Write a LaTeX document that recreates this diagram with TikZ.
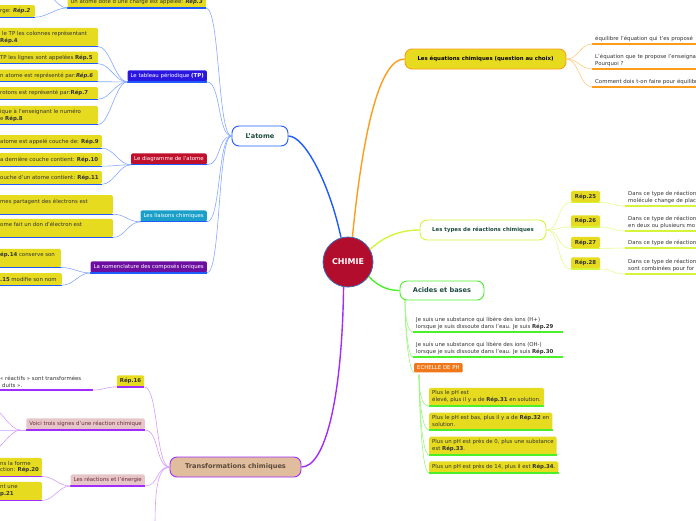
\documentclass[tikz,border=0pt]{standalone}
\usepackage{fontspec}
\setmainfont{DejaVu Sans}
\newcommand\fsm{\fontsize{5.4}{6.8}\selectfont}
\newcommand\fmid{\fontsize{5.4}{6.6}\selectfont\bfseries}
\newcommand\fbig{\fontsize{6.6}{8}\selectfont\bfseries}
\definecolor{ybox}{HTML}{E6DB1F}
\definecolor{txt}{HTML}{333333}
\definecolor{dgreen}{HTML}{1D4B3F}
\definecolor{blueA}{HTML}{1E5BFF}
\definecolor{blueL}{HTML}{86A8FF}
\definecolor{orA}{HTML}{FF9C1A}
\definecolor{orL}{HTML}{FFCB80}
\definecolor{ygA}{HTML}{D4F53A}
\definecolor{ygL}{HTML}{E6FA90}
\definecolor{grA}{HTML}{4CF02A}
\definecolor{grL}{HTML}{9CF57E}
\definecolor{puA}{HTML}{A22CFF}
\definecolor{puL}{HTML}{D49CFF}
\definecolor{chim}{HTML}{B30D2E}
\definecolor{chimB}{HTML}{3D6DB5}
\definecolor{tpc}{HTML}{2A16E0}
\definecolor{diagc}{HTML}{C0102C}
\definecolor{liac}{HTML}{1A9FC9}
\definecolor{nomc}{HTML}{6C0FA0}
\definecolor{echc}{HTML}{F0781A}
\definecolor{pinkc}{HTML}{E6C6C8}
\definecolor{pinkt}{HTML}{6B2A3A}
\definecolor{tanc}{HTML}{E0BD9C}
\definecolor{tant}{HTML}{5B4A3C}
% box cut by the left edge: name, right edge, centre y, height, text
\newcommand\cutleaf[5]{%
  \node[leafbg,anchor=east,minimum width=#2pt+6pt,minimum height=#4pt] (#1) at (#2,#3) {};
  \node[plain,anchor=west,inner xsep=0pt] (#1t) at (0,#3) {#5};}
\begin{document}
\begin{tikzpicture}[x=1pt,y=-1pt,font=\fsm,
  leaf/.style={fill=ybox,rounded corners=1.5pt,inner xsep=3pt,inner ysep=3pt,align=left,text=txt},
  leafbg/.style={fill=ybox,rounded corners=1.5pt,inner sep=0pt},
  plain/.style={inner xsep=3pt,inner ysep=2.6pt,align=left,text=txt},
  topic/.style={rounded corners=1.5pt,inner xsep=3pt,inner ysep=3pt,text=white},
  mainn/.style={rounded corners=7pt,line width=0.9pt,fill=white,font=\fbig,text=dgreen,minimum height=20pt},
  blu/.style={blueA,line width=1.3pt},
  bll/.style={blueL,line width=0.6pt},
  oru/.style={orA,line width=1.3pt},
  orl/.style={orL,line width=0.6pt},
  ygu/.style={ygA,line width=1.3pt},
  ygl/.style={ygL,line width=0.6pt},
  gru/.style={grA,line width=1.3pt},
  grl/.style={grL,line width=0.6pt},
  puu/.style={puA,line width=1.3pt},
  pul/.style={puL,line width=0.6pt}]
\useasboundingbox (0,0) rectangle (696,520);

% ---------- centre ----------
\node[circle,fill=chim,draw=chimB,line width=0.8pt,minimum size=50pt,inner sep=0pt,text=white,font=\fontsize{8}{9}\selectfont\bfseries] (chimie) at (348,262) {CHIMIE};

% ---------- L'atome ----------
\node[mainn,draw=blueA,minimum width=56pt] (atome) at (260,136) {L'atome};

\node[leaf,anchor=east] (r3) at (206,2) {Un atome doté d'une charge est appelée: \textbf{\textit{Rép.3}}};
\cutleaf{r2}{35}{11}{12}{rge: \textbf{\textit{Rép.2}}}
\coordinate (r1) at (40,-12);

\node[topic,fill=tpc,anchor=east] (tp) at (207,76) {Le tableau périodique \textbf{(TP)}};
\cutleaf{a4}{98}{37}{18.5}{\hspace*{2pt}le TP les colonnes représentant\\\textbf{Rép.4}}
\cutleaf{a5}{98}{57.5}{12}{TP les lignes sont appelées \textbf{Rép.5}}
\cutleaf{a6}{98}{75.5}{12}{n atome est représenté par:\textbf{\textit{Rép.6}}}
\cutleaf{a7}{98}{93}{12}{rotons est représenté par:\textbf{Rép.7}}
\cutleaf{a8}{98}{115}{18.5}{ique à l'enseignant le numéro\\e \textbf{Rép.8}}

\node[topic,fill=diagc,anchor=east] (diag) at (207,159) {Le diagramme de l'atome};
\cutleaf{a9}{102}{141.5}{13}{atome est appelé couche de: \textbf{Rép.9}}
\cutleaf{a10}{102}{159.5}{13}{a dernière couche contient: \textbf{Rép.10}}
\cutleaf{a11}{102}{177.5}{13}{ouche d'un atome contient: \textbf{Rép.11}}

\node[topic,fill=liac,anchor=east] (liais) at (207,216) {Les liaisons chimiques};
\cutleaf{a12}{113}{204.5}{19}{mes partagent des électrons est\\\mbox{}}
\cutleaf{a13}{113}{228}{18.5}{ome fait un don d'électron est\\\mbox{}}

\node[topic,fill=nomc,anchor=east] (nom) at (207,267) {La nomenclature des composés ioniques};
\cutleaf{a14}{61}{258}{18.5}{\textbf{ép.14} conserve son\\\mbox{}}
\cutleaf{a15}{62}{279}{12}{\textbf{.15} modifie son nom}

\foreach \n in {r3,r2,tp,a4,a5,a6,a7,a8,diag,a9,a10,a11,liais,a12,a13,nom,a14,a15}
  \draw[blu] (\n.south west) -- (\n.south east);

\foreach \n in {r3,tp,diag,liais,nom}
  \draw[bll] (atome.west) .. controls +(-14,0) and +(14,0) .. (\n.south east);
\draw[bll] (r3.south west) .. controls +(-12,0) and +(12,0) .. (r2.south east);
\draw[bll] (r3.south west) .. controls +(-12,0) and +(10,0) .. (r1);
\foreach \n in {a4,a5,a6,a7,a8}
  \draw[bll] (tp.south west) .. controls +(-12,0) and +(12,0) .. (\n.south east);
\foreach \n in {a9,a10,a11}
  \draw[bll] (diag.south west) .. controls +(-12,0) and +(12,0) .. (\n.south east);
\foreach \n in {a12,a13}
  \draw[bll] (liais.south west) .. controls +(-12,0) and +(12,0) .. (\n.south east);
\foreach \n in {a14,a15}
  \draw[bll] (nom.south west) .. controls +(-12,0) and +(12,0) .. (\n.south east);

% ---------- Equations ----------
\node[mainn,draw=orA,fill=ybox,text=black,font=\fmid,minimum width=161pt] (eq) at (485.5,59) {Les équations chimiques (question au choix)};
\node[plain,anchor=south west,text width=120pt] (e1) at (592,44) {équilibre l'équation qui t'es proposé};
\node[plain,anchor=south west,text width=120pt] (e2) at (592,69) {L'équation que te propose l'enseignant\\Pourquoi ?};
\node[plain,anchor=south west,text width=120pt] (e3) at (592,87) {Comment dois t-on faire pour équilibrer};
\foreach \n in {e1,e2,e3}{
  \draw[oru] (\n.south west) -- (\n.south east);
  \draw[orl] (eq.east) .. controls +(12,0) and +(-12,0) .. (\n.south west);}

% ---------- Types ----------
\node[mainn,draw=ygA,font=\fmid,minimum width=126pt] (types) at (483,230) {Les types de réactions chimiques};
\node[leaf,minimum width=29pt,font=\fmid] (r25) at (585.5,196.5) {Rép.25};
\node[leaf,minimum width=29pt,font=\fmid] (r26) at (585.5,221) {Rép.26};
\node[leaf,minimum width=29pt,font=\fmid] (r27) at (585.5,242.5) {Rép.27};
\node[leaf,minimum width=29pt,font=\fmid] (r28) at (585.5,263) {Rép.28};
\node[plain,anchor=south west,text width=100pt] (d25) at (625,206) {Dans ce type de réaction\\molécule change de place};
\node[plain,anchor=south west,text width=100pt] (d26) at (625,231) {Dans ce type de réaction\\en deux ou plusieurs mo};
\node[plain,anchor=south west,text width=100pt] (d27) at (625,248) {Dans ce type de réaction};
\node[plain,anchor=south west,text width=100pt] (d28) at (625,274) {Dans ce type de réaction\\sont combinées pour for};
\foreach \r/\d in {r25/d25,r26/d26,r27/d27,r28/d28}{
  \draw[ygu] (\r.south west) -- (\r.south east);
  \draw[ygu] (\d.south west) -- (\d.south east);
  \draw[ygl] (types.east) .. controls +(14,0) and +(-14,0) .. (\r.south west);
  \draw[ygl] (\r.south east) .. controls +(12,0) and +(-12,0) .. (\d.south west);}

% ---------- Acides et bases ----------
\node[mainn,draw=grA,minimum width=84pt,minimum height=19pt] (ab) at (442,290.5) {Acides et bases};
\node[plain,anchor=south west] (g29) at (413,332) {Je suis une substance qui libère des ions (H+)\\lorsque je suis dissoute dans l'eau. Je suis \textbf{Rép.29}};
\node[plain,anchor=south west] (g30) at (413,357) {Je suis une substance qui libère des ions (OH-)\\lorsque je suis dissoute dans l'eau. Je suis \textbf{Rép.30}};
\node[topic,fill=echc,anchor=north west,rounded corners=1pt,inner ysep=2.6pt] (ech) at (414,363) {ECHELLE DE PH};
\node[leaf,anchor=south west] (g31) at (429,406) {Plus le pH est\\élevé, plus il y a de \textbf{Rép.31} en solution.};
\node[leaf,anchor=south west] (g32) at (429,430) {Plus le pH est bas, plus il y a de \textbf{Rép.32} en\\solution.};
\node[leaf,anchor=south west] (g33) at (429,455) {Plus un pH est près de 0, plus une substance\\est \textbf{Rép.33}.};
\node[leaf,anchor=south west] (g34) at (429,473) {Plus un pH est près de 14, plus il est \textbf{Rép.34}.};
\draw[gru] (g29.south west) -- ++(150,0);
\draw[gru] (g30.south west) -- ++(150,0);
\foreach \n in {g31,g32,g33,g34}
  \draw[gru] (\n.south west) -- (\n.south east);
\coordinate (abo) at (405,300);
\foreach \n in {g29,g30}
  \draw[grl] (abo) .. controls +(0,14) and +(-6,0) .. (\n.south west);
\draw[grl] (abo) .. controls +(0,40) and +(-4,0) .. (ech.south west);
\coordinate (echo) at (419,374.5);
\foreach \n in {g31,g32,g33,g34}
  \draw[grl] (echo) .. controls +(0,16) and +(-8,0) .. (\n.south west);

% ---------- Transformations ----------
\node[mainn,draw=puA,fill=tanc,text=tant,minimum width=131pt] (tc) at (235.5,467) {Transformations chimiques};
\node[leaf,minimum width=27pt,font=\fmid] (r16) at (130.5,381) {Rép.16};
\node[plain,anchor=south west,text=txt] (t16) at (-3,390) {« réactifs » sont transformées\\\hspace{2pt}duits ».};
\node[topic,fill=pinkc,text=pinkt,anchor=south east] (sig) at (145,430) {Voici trois signes d'une réaction chimique};
\node[topic,fill=pinkc,text=pinkt,anchor=south east] (ene) at (145,486) {Les réactions et l'énergie};
\cutleaf{r20}{42}{467}{18.5}{ns la forme\\ction: \textbf{Rép.20}}
\cutleaf{r21}{42}{491}{18.5}{nt une\\\textbf{p.21}}
\coordinate (tdown) at (155,530);
\coordinate (s1) at (-8,408);
\coordinate (s2) at (-8,430);
\coordinate (s3) at (-8,451);
\foreach \n in {r16,sig,ene,r20,r21}
  \draw[puu] (\n.south west) -- (\n.south east);
\draw[puu] (0,390) -- (93,390);
\draw[pul] (93,390) .. controls +(12,0) and +(-12,0) .. (r16.south west);
\foreach \n in {r16,sig,ene}
  \draw[pul] (tc.west) .. controls +(-14,0) and +(14,0) .. (\n.south east);
\draw[pul] (tc.west) .. controls +(-14,0) and +(0,-30) .. (tdown);
\foreach \n in {s1,s2,s3}
  \draw[pul] ([xshift=-6pt]sig.south west) .. controls +(-10,0) and +(8,0) .. (\n);
\draw[pul] (sig.south west) -- ++(-6,0);
\foreach \n in {r20,r21}
  \draw[pul] (ene.south west) .. controls +(-12,0) and +(12,0) .. (\n.south east);

% ---------- main branches ----------
\draw[blueA,line width=1.4pt] (chimie.106) .. controls (330,185) and (305,136) .. (atome.east);
\draw[orA,line width=1.4pt] (chimie.80) .. controls (362,140) and (378,59) .. (eq.west);
\draw[ygA,line width=1.4pt] (chimie.30) .. controls (385,236) and (400,230) .. (types.west);
\draw[grA,line width=1.4pt] (chimie.-35) .. controls (380,288) and (390,290.5) .. (ab.west);
\draw[puA,line width=1.4pt] (chimie.-100) .. controls (342,400) and (325,467) .. (tc.east);
\end{tikzpicture}
\end{document}
